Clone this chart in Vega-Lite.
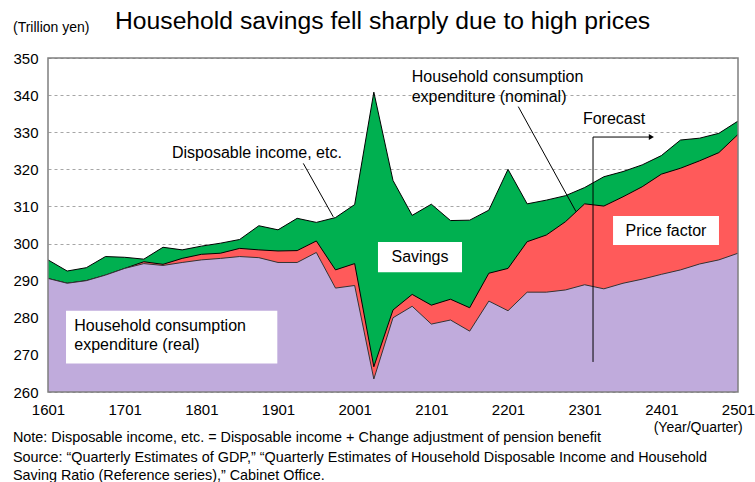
{
  "$schema": "https://vega.github.io/schema/vega-lite/v6.json",
  "width": 690,
  "height": 334,
  "autosize": {"type": "none"},
  "padding": {"left": 48, "top": 58, "right": 17, "bottom": 90},
  "background": "white",
  "config": {
    "font": "Liberation Sans",
    "view": {"stroke": null},
    "axis": {"labelFont": "Liberation Sans", "labelFontSize": 15, "labelColor": "black", "ticks": false, "domain": false, "labelOverlap": false, "labelSeparation": 0},
    "axisY": {"tickCount": 10, "labelOverlap": false}
  },
  "datasets": {
    "series": [
      {"quarter": "1601", "t": 2016.00, "income": 295.6, "nominal": 290.6, "real": 290.6},
      {"quarter": "1602", "t": 2016.25, "income": 292.6, "nominal": 289.3, "real": 289.3},
      {"quarter": "1603", "t": 2016.50, "income": 293.5, "nominal": 290.0, "real": 290.0},
      {"quarter": "1604", "t": 2016.75, "income": 296.5, "nominal": 291.5, "real": 291.5},
      {"quarter": "1701", "t": 2017.00, "income": 296.3, "nominal": 293.3, "real": 293.3},
      {"quarter": "1702", "t": 2017.25, "income": 295.8, "nominal": 295.1, "real": 294.6},
      {"quarter": "1703", "t": 2017.50, "income": 299.0, "nominal": 294.4, "real": 294.1},
      {"quarter": "1704", "t": 2017.75, "income": 298.3, "nominal": 296.0, "real": 294.9},
      {"quarter": "1801", "t": 2018.00, "income": 299.3, "nominal": 297.1, "real": 295.6},
      {"quarter": "1802", "t": 2018.25, "income": 300.1, "nominal": 297.4, "real": 296.0},
      {"quarter": "1803", "t": 2018.50, "income": 301.1, "nominal": 298.7, "real": 296.5},
      {"quarter": "1804", "t": 2018.75, "income": 304.8, "nominal": 298.3, "real": 296.2},
      {"quarter": "1901", "t": 2019.00, "income": 303.7, "nominal": 298.0, "real": 294.9},
      {"quarter": "1902", "t": 2019.25, "income": 306.8, "nominal": 298.1, "real": 294.9},
      {"quarter": "1903", "t": 2019.50, "income": 305.7, "nominal": 300.7, "real": 297.6},
      {"quarter": "1904", "t": 2019.75, "income": 307.0, "nominal": 292.9, "real": 288.0},
      {"quarter": "2001", "t": 2020.00, "income": 310.5, "nominal": 294.6, "real": 288.7},
      {"quarter": "2002", "t": 2020.25, "income": 340.8, "nominal": 266.8, "real": 263.5},
      {"quarter": "2003", "t": 2020.50, "income": 317.0, "nominal": 282.1, "real": 280.0},
      {"quarter": "2004", "t": 2020.75, "income": 307.6, "nominal": 286.3, "real": 283.1},
      {"quarter": "2101", "t": 2021.00, "income": 310.6, "nominal": 283.4, "real": 278.3},
      {"quarter": "2102", "t": 2021.25, "income": 306.2, "nominal": 285.0, "real": 279.4},
      {"quarter": "2103", "t": 2021.50, "income": 306.3, "nominal": 282.7, "real": 276.4},
      {"quarter": "2104", "t": 2021.75, "income": 309.0, "nominal": 292.0, "real": 284.5},
      {"quarter": "2201", "t": 2022.00, "income": 320.0, "nominal": 293.3, "real": 281.9},
      {"quarter": "2202", "t": 2022.25, "income": 310.7, "nominal": 300.5, "real": 286.9},
      {"quarter": "2203", "t": 2022.50, "income": 311.7, "nominal": 302.3, "real": 286.9},
      {"quarter": "2204", "t": 2022.75, "income": 312.9, "nominal": 305.9, "real": 287.5},
      {"quarter": "2301", "t": 2023.00, "income": 315.1, "nominal": 310.7, "real": 288.9},
      {"quarter": "2302", "t": 2023.25, "income": 318.0, "nominal": 310.1, "real": 287.8},
      {"quarter": "2303", "t": 2023.50, "income": 319.4, "nominal": 312.6, "real": 289.3},
      {"quarter": "2304", "t": 2023.75, "income": 321.2, "nominal": 315.3, "real": 290.4},
      {"quarter": "2401", "t": 2024.00, "income": 323.7, "nominal": 318.7, "real": 291.7},
      {"quarter": "2402", "t": 2024.25, "income": 327.9, "nominal": 320.3, "real": 292.9},
      {"quarter": "2403", "t": 2024.50, "income": 328.4, "nominal": 322.3, "real": 294.5},
      {"quarter": "2404", "t": 2024.75, "income": 329.7, "nominal": 324.5, "real": 295.6},
      {"quarter": "2501", "t": 2025.00, "income": 333.0, "nominal": 329.4, "real": 297.4}
    ],
    "one": [{}]
  },
  "data": {"name": "one"},
  "layer": [
    {
      "data": {"name": "series"},
      "mark": {"type": "area", "fill": "#00b050", "opacity": 1, "line": {"stroke": "black", "strokeWidth": 1}},
      "encoding": {
        "x": {"field": "t", "type": "quantitative",
          "scale": {"domain": [2016, 2025], "nice": false, "zero": false},
          "axis": {"title": null, "values": [2016, 2017, 2018, 2019, 2020, 2021, 2022, 2023, 2024, 2025], "labelExpr": "slice(toString(datum.value), 2) + '01'", "labelFlush": false, "labelOverlap": false, "grid": false, "labelPadding": 10}},
        "y": {"field": "income", "type": "quantitative", "stack": null,
          "scale": {"domain": [260, 350], "nice": false, "zero": false},
          "axis": {"title": null, "values": [260, 270, 280, 290, 300, 310, 320, 330, 340, 350], "tickCount": 10, "labelOverlap": false, "labelFlush": false, "grid": true, "gridDash": [3, 3], "gridColor": "#a6a6a6", "gridWidth": 1, "labelPadding": 10}},
        "y2": {"datum": 260}
      }
    },
    {
      "data": {"name": "series"},
      "mark": {"type": "area", "fill": "#ff5a5a", "opacity": 1, "line": {"stroke": "black", "strokeWidth": 1}},
      "encoding": {
        "x": {"field": "t", "type": "quantitative"},
        "y": {"field": "nominal", "type": "quantitative", "stack": null},
        "y2": {"datum": 260}
      }
    },
    {
      "data": {"name": "series"},
      "mark": {"type": "area", "fill": "#c0abdc", "opacity": 1, "line": {"stroke": "#333333", "strokeWidth": 1}},
      "encoding": {
        "x": {"field": "t", "type": "quantitative"},
        "y": {"field": "real", "type": "quantitative", "stack": null},
        "y2": {"datum": 260}
      }
    },
    {
      "mark": {"type": "rect", "fill": "white"},
      "encoding": {
        "x": {"datum": 2016.235, "type": "quantitative"}, "x2": {"datum": 2018.991},
        "y": {"datum": 281.9, "type": "quantitative"}, "y2": {"datum": 267.7}
      }
    },
    {
      "mark": {"type": "rect", "fill": "white"},
      "encoding": {
        "x": {"datum": 2020.304, "type": "quantitative"}, "x2": {"datum": 2021.4},
        "y": {"datum": 300.4, "type": "quantitative"}, "y2": {"datum": 292.3}
      }
    },
    {
      "mark": {"type": "rect", "fill": "white"},
      "encoding": {
        "x": {"datum": 2023.37, "type": "quantitative"}, "x2": {"datum": 2024.752},
        "y": {"datum": 307.4, "type": "quantitative"}, "y2": {"datum": 299.6}
      }
    },
    {
      "mark": {"type": "text", "text": ["Household consumption", "expenditure (real)"], "align": "left", "baseline": "middle", "fontSize": 16, "lineHeight": 19.5, "fill": "black"},
      "encoding": {"x": {"datum": 2016.343, "type": "quantitative"}, "y": {"datum": 277.9, "type": "quantitative"}}
    },
    {
      "mark": {"type": "text", "text": "Savings", "align": "center", "baseline": "middle", "fontSize": 16, "fill": "black"},
      "encoding": {"x": {"datum": 2020.852, "type": "quantitative"}, "y": {"datum": 296.4, "type": "quantitative"}}
    },
    {
      "mark": {"type": "text", "text": "Price factor", "align": "center", "baseline": "middle", "fontSize": 16, "fill": "black"},
      "encoding": {"x": {"datum": 2024.06, "type": "quantitative"}, "y": {"datum": 303.5, "type": "quantitative"}}
    },
    {
      "mark": {"type": "text", "text": "Disposable income, etc.", "align": "left", "baseline": "middle", "fontSize": 16, "fill": "black"},
      "encoding": {"x": {"datum": 2017.617, "type": "quantitative"}, "y": {"datum": 324.4, "type": "quantitative"}}
    },
    {
      "mark": {"type": "text", "text": ["Household consumption", "expenditure (nominal)"], "align": "left", "baseline": "middle", "fontSize": 16, "lineHeight": 20, "fill": "black"},
      "encoding": {"x": {"datum": 2020.744, "type": "quantitative"}, "y": {"datum": 344.8, "type": "quantitative"}}
    },
    {
      "mark": {"type": "text", "text": "Forecast", "align": "center", "baseline": "middle", "fontSize": 16, "fill": "black"},
      "encoding": {"x": {"datum": 2023.383, "type": "quantitative"}, "y": {"datum": 333.6, "type": "quantitative"}}
    },
    {
      "mark": {"type": "rule", "stroke": "black", "strokeWidth": 1},
      "encoding": {
        "x": {"datum": 2019.33, "type": "quantitative"}, "x2": {"datum": 2019.721},
        "y": {"datum": 321.6, "type": "quantitative"}, "y2": {"datum": 307.2}
      }
    },
    {
      "mark": {"type": "rule", "stroke": "black", "strokeWidth": 1},
      "encoding": {
        "x": {"datum": 2022.134, "type": "quantitative"}, "x2": {"datum": 2022.887},
        "y": {"datum": 336.9, "type": "quantitative"}, "y2": {"datum": 308.6}
      }
    },
    {
      "mark": {"type": "rule", "stroke": "black", "strokeWidth": 1},
      "encoding": {
        "x": {"datum": 2023.109, "type": "quantitative"},
        "y": {"datum": 268.1, "type": "quantitative"}, "y2": {"datum": 328.7}
      }
    },
    {
      "mark": {"type": "rule", "stroke": "black", "strokeWidth": 1},
      "encoding": {
        "x": {"datum": 2023.109, "type": "quantitative"}, "x2": {"datum": 2023.86},
        "y": {"datum": 328.7, "type": "quantitative"}
      }
    },
    {
      "mark": {"type": "point", "shape": "triangle-right", "filled": true, "fill": "black", "size": 35, "opacity": 1},
      "encoding": {"x": {"datum": 2023.87, "type": "quantitative"}, "y": {"datum": 328.7, "type": "quantitative"}}
    },
    {
      "mark": {"type": "rect", "fill": null, "stroke": "#7f7f7f", "strokeWidth": 1.5},
      "encoding": {
        "x": {"datum": 2016, "type": "quantitative"}, "x2": {"datum": 2025},
        "y": {"datum": 260, "type": "quantitative"}, "y2": {"datum": 350}
      }
    },
    {
      "mark": {"type": "text", "text": "Household savings fell sharply due to high prices", "align": "left", "baseline": "middle", "fontSize": 24.7, "fill": "black"},
      "encoding": {"x": {"datum": 2016.874, "type": "quantitative"}, "y": {"datum": 359.7, "type": "quantitative"}}
    },
    {
      "mark": {"type": "text", "text": "(Trillion yen)", "align": "left", "baseline": "middle", "fontSize": 14, "fill": "black"},
      "encoding": {"x": {"datum": 2015.543, "type": "quantitative"}, "y": {"datum": 358.1, "type": "quantitative"}}
    },
    {
      "mark": {"type": "text", "text": "(Year/Quarter)", "align": "right", "baseline": "middle", "fontSize": 14, "fill": "black"},
      "encoding": {"x": {"datum": 2025.061, "type": "quantitative"}, "y": {"datum": 250.2, "type": "quantitative"}}
    },
    {
      "mark": {"type": "text", "text": "Note: Disposable income, etc. = Disposable income + Change adjustment of pension benefit", "align": "left", "baseline": "middle", "fontSize": 14.4, "fill": "black"},
      "encoding": {"x": {"datum": 2015.543, "type": "quantitative"}, "y": {"datum": 247.6, "type": "quantitative"}}
    },
    {
      "mark": {"type": "text", "text": "Source: “Quarterly Estimates of GDP,” “Quarterly Estimates of Household Disposable Income and Household", "align": "left", "baseline": "middle", "fontSize": 14.4, "fill": "black"},
      "encoding": {"x": {"datum": 2015.543, "type": "quantitative"}, "y": {"datum": 242.1, "type": "quantitative"}}
    },
    {
      "mark": {"type": "text", "text": "Saving Ratio (Reference series),” Cabinet Office.", "align": "left", "baseline": "middle", "fontSize": 14.4, "fill": "black"},
      "encoding": {"x": {"datum": 2015.543, "type": "quantitative"}, "y": {"datum": 237.5, "type": "quantitative"}}
    }
  ]
}
